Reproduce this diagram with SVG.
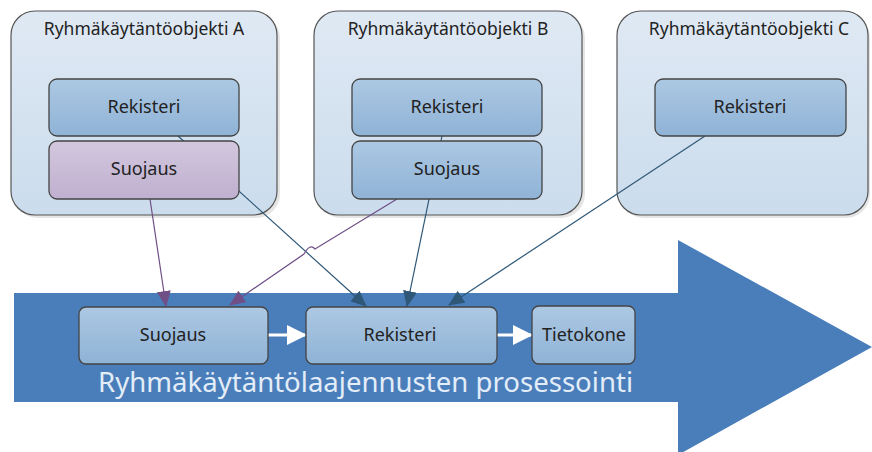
<svg xmlns="http://www.w3.org/2000/svg" width="872" height="452" viewBox="0 0 872 452">
  <defs>
    <linearGradient id="gContainer" x1="0" y1="0" x2="0" y2="1">
      <stop offset="0" stop-color="#dfe9f4"/>
      <stop offset="1" stop-color="#cbdcec"/>
    </linearGradient>
    <linearGradient id="gNode" x1="0" y1="0" x2="0" y2="1">
      <stop offset="0" stop-color="#acc8e3"/>
      <stop offset="1" stop-color="#8fb3d6"/>
    </linearGradient>
    <linearGradient id="gNodePurple" x1="0" y1="0" x2="0" y2="1">
      <stop offset="0" stop-color="#d3c7de"/>
      <stop offset="1" stop-color="#bfb0cf"/>
    </linearGradient>
    <marker id="arrBlue" viewBox="0 0 16 14" refX="15" refY="7" markerWidth="16" markerHeight="14" markerUnits="userSpaceOnUse" orient="auto">
      <path d="M0,0 L16,7 L0,14 z" fill="#2f5878"/>
    </marker>
    <marker id="arrPurple" viewBox="0 0 16 14" refX="15" refY="7" markerWidth="16" markerHeight="14" markerUnits="userSpaceOnUse" orient="auto">
      <path d="M0,0 L16,7 L0,14 z" fill="#6f4f86"/>
    </marker>
    <marker id="arrWhite" viewBox="0 0 10 10" refX="9" refY="5" markerWidth="20" markerHeight="20" markerUnits="userSpaceOnUse" orient="auto">
      <path d="M0,0 L10,5 L0,10 z" fill="#ffffff"/>
    </marker>
  </defs>
  <style>
    .container { fill: url(#gContainer); stroke: #555; stroke-width: 1.2; }
    .shadow { fill: #000; opacity: 0.1; }
    .node { fill: url(#gNode); stroke: #444; stroke-width: 1.3; }
    .nodeP { fill: url(#gNodePurple); stroke: #444; stroke-width: 1.3; }
    .title { font-family: "Noto Sans", "DejaVu Sans", sans-serif; font-size: 17.5px; fill: #222; text-anchor: middle; }
    .label { font-family: "Noto Sans", "DejaVu Sans", sans-serif; font-size: 18px; fill: #222; text-anchor: middle; }
    .blue { stroke: #2f5878; stroke-width: 1.2; fill: none; marker-end: url(#arrBlue); }
    .purple { stroke: #6f4f86; stroke-width: 1.2; fill: none; marker-end: url(#arrPurple); }
    .white { stroke: #ffffff; stroke-width: 3; fill: none; marker-end: url(#arrWhite); }
  </style>

  <!-- process arrow background -->
  <g id="process-arrow">
    <path d="M14,293 L678,293 L678,240 L872,347 L678,455 L678,402 L14,402 z" fill="#4a7ebb"/>
    <text x="98" y="392" font-family="Noto Sans, DejaVu Sans, sans-serif" font-size="27" textLength="535" lengthAdjust="spacingAndGlyphs" fill="#e3edf8">Ryhmäkäytäntölaajennusten prosessointi</text>
  </g>

  <!-- group policy objects -->
  <g id="gpo-a">
    <rect class="shadow" x="14" y="14" width="266" height="204" rx="24"/>
    <rect class="container" x="11" y="11" width="266" height="204" rx="24"/>
    <text class="title" x="144" y="35">Ryhmäkäytäntöobjekti A</text>
  </g>
  <g id="gpo-b">
    <rect class="shadow" x="317" y="14" width="268" height="204" rx="24"/>
    <rect class="container" x="314" y="11" width="268" height="204" rx="24"/>
    <text class="title" x="448" y="35">Ryhmäkäytäntöobjekti B</text>
  </g>
  <g id="gpo-c">
    <rect class="shadow" x="620" y="14" width="250" height="204" rx="24"/>
    <rect class="container" x="617" y="11" width="251" height="204" rx="24"/>
    <text class="title" x="749" y="35">Ryhmäkäytäntöobjekti C</text>
  </g>

  <!-- connectors (drawn before the nodes they pass behind) -->
  <g id="connectors">
    <line class="blue" x1="178" y1="136" x2="366" y2="306"/>
    <line class="blue" x1="442" y1="136" x2="407" y2="306"/>
    <line class="blue" x1="705" y1="136" x2="449" y2="305"/>
    <line class="purple" x1="150" y1="199" x2="166" y2="306"/>
    <path class="purple" d="M397,199 L315,249 Q310,243 304,254 L230,305"/>
    <line class="white" x1="268" y1="335" x2="305" y2="335"/>
    <line class="white" x1="497" y1="335" x2="531" y2="335"/>
  </g>

  <g id="a-rekisteri">
    <rect class="node" x="49" y="79" width="190" height="57" rx="8"/>
    <text class="label" x="144" y="113">Rekisteri</text>
  </g>
  <g id="a-suojaus">
    <rect class="nodeP" x="49" y="141" width="190" height="58" rx="8"/>
    <text class="label" x="144" y="175">Suojaus</text>
  </g>
  <g id="b-rekisteri">
    <rect class="node" x="352" y="79" width="190" height="57" rx="8"/>
    <text class="label" x="447" y="113">Rekisteri</text>
  </g>
  <g id="b-suojaus">
    <rect class="node" x="352" y="141" width="190" height="58" rx="8"/>
    <text class="label" x="447" y="175">Suojaus</text>
  </g>
  <g id="c-rekisteri">
    <rect class="node" x="655" y="79" width="191" height="57" rx="8"/>
    <text class="label" x="750" y="113">Rekisteri</text>
  </g>

  <!-- processing steps -->
  <g id="p-suojaus">
    <rect class="node" x="79" y="307" width="189" height="57" rx="7"/>
    <text class="label" x="173" y="341">Suojaus</text>
  </g>
  <g id="p-rekisteri">
    <rect class="node" x="306" y="307" width="191" height="57" rx="7"/>
    <text class="label" x="400" y="341">Rekisteri</text>
  </g>
  <g id="p-tietokone">
    <rect class="node" x="532" y="306" width="103" height="58" rx="7"/>
    <text class="label" x="584" y="341">Tietokone</text>
  </g>
</svg>
